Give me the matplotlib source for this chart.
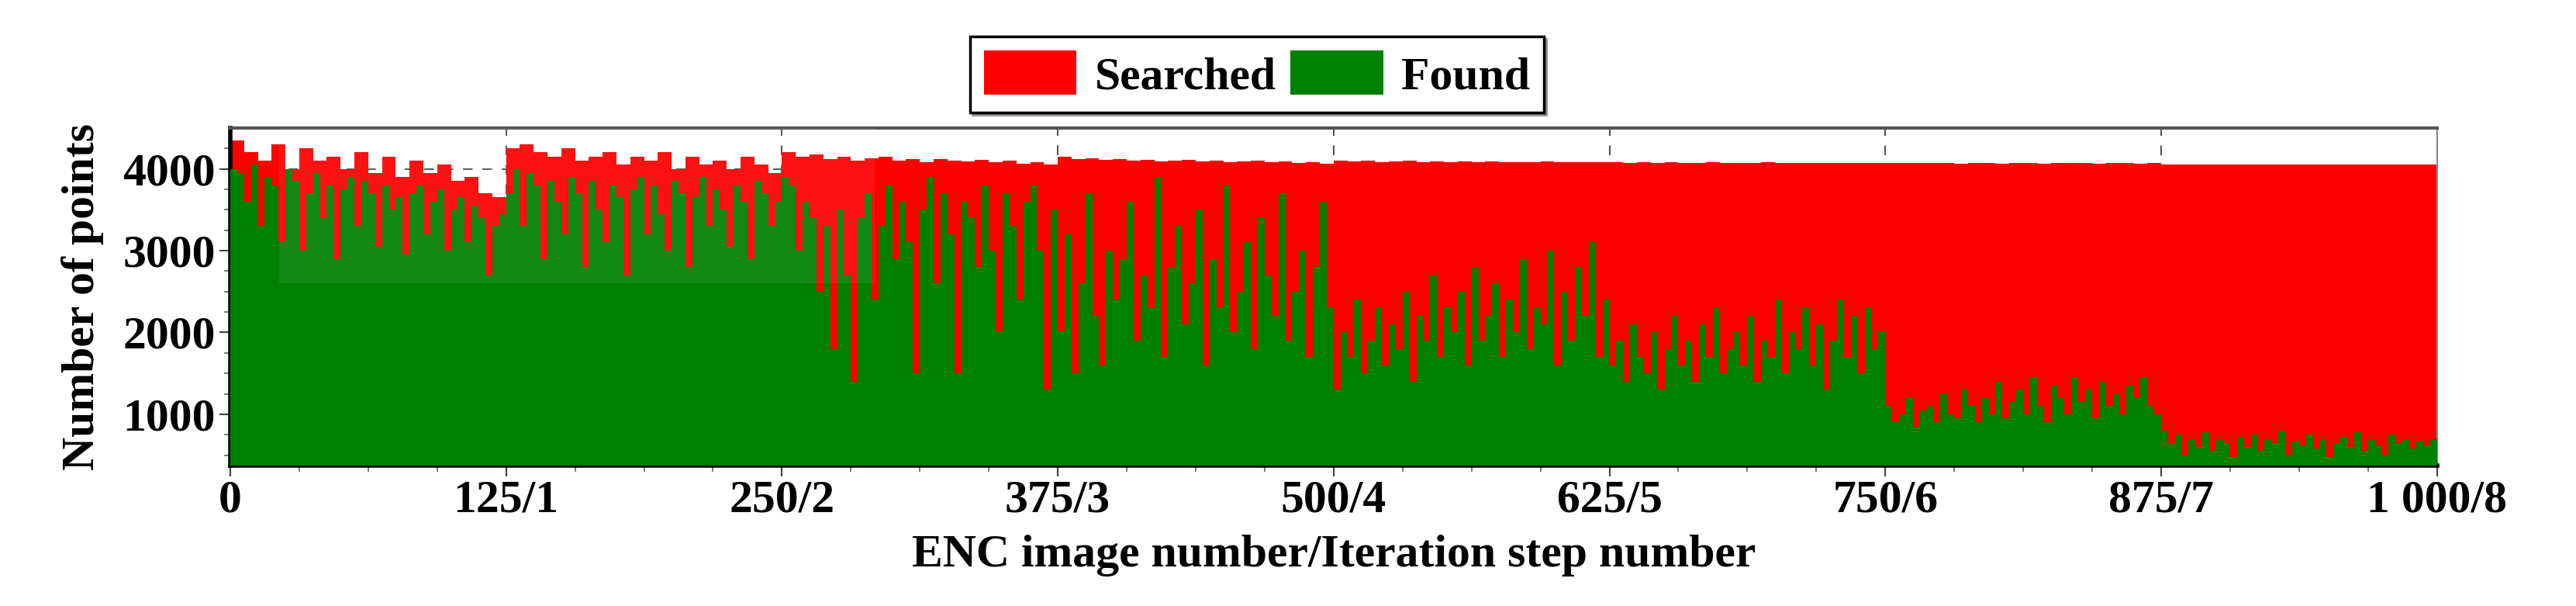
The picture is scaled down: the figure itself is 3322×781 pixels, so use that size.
import matplotlib.pyplot as plt
import numpy as np
from matplotlib.patches import Rectangle

plt.rcParams['font.family'] = ['Liberation Serif', 'DejaVu Serif']
plt.rcParams['font.weight'] = 'bold'

# Found points, 40 samples per iteration step (125 images each)
found_seg = [
    [4000, 3950, 3600, 4050, 3300, 3900, 3800, 3100, 4000, 3850, 3000, 3700, 3950, 3400, 3800, 2900, 3750, 3900, 3300, 3850,
     3700, 3050, 3800, 3500, 3650, 2950, 3700, 3800, 3200, 3600, 3750, 3000, 3500, 3650, 3100, 3550, 3400, 2700, 3300, 3450],
    [3700, 4000, 3300, 3950, 3800, 2900, 3850, 3600, 3200, 3900, 3700, 2800, 3850, 3500, 3100, 3800, 3650, 2700, 3750, 3900,
     3200, 3800, 3450, 3000, 3850, 3700, 2800, 3650, 3900, 3300, 3750, 3500, 3050, 3800, 3600, 2900, 3850, 3700, 3300, 3600],
    [3900, 3800, 3000, 3600, 3400, 2500, 3300, 1800, 3500, 2700, 1400, 3400, 3700, 2400, 3300, 3800, 2900, 3600, 3100, 1500,
     3500, 3900, 2600, 3700, 3200, 1500, 3600, 3400, 2800, 3800, 3000, 2000, 3700, 3300, 2400, 3600, 3800, 3000, 1300, 3500],
    [2000, 3200, 1500, 2600, 3700, 2200, 1600, 3000, 2400, 2900, 3600, 1900, 2700, 2300, 3900, 1700, 2800, 3300, 2100, 2600,
     3500, 1600, 2900, 2300, 3800, 2000, 2500, 3100, 1800, 3400, 2700, 2200, 3700, 1900, 2500, 3000, 1700, 2800, 3600, 2300],
    [1300, 2000, 1700, 2400, 1500, 1900, 2300, 1600, 2100, 1800, 2500, 1400, 2200, 1900, 2700, 1700, 2300, 2000, 2500, 1600,
     2800, 1900, 2200, 2600, 1700, 2400, 2000, 2900, 1800, 2300, 2100, 3000, 1600, 2500, 1900, 2800, 2200, 3100, 1700, 2400],
    [1600, 1900, 1400, 2100, 1700, 1500, 2000, 1300, 1800, 2200, 1600, 1900, 1400, 2100, 1700, 2300, 1500, 1800, 2000, 1600,
     2200, 1400, 1900, 1700, 2400, 1500, 2000, 1800, 2300, 1600, 2100, 1300, 1900, 2400, 1700, 2200, 1500, 2300, 1800, 2000],
    [1100, 900, 1000, 1200, 850, 1050, 1100, 900, 1250, 1000, 950, 1300, 1100, 900, 1200, 1000, 1400, 950, 1150, 1300,
     1000, 1450, 1100, 900, 1350, 1200, 1000, 1450, 1150, 1300, 950, 1400, 1100, 1250, 1000, 1350, 1200, 1450, 1100, 1000],
    [800, 650, 750, 500, 700, 600, 780, 550, 700, 650, 480, 720, 600, 750, 550, 700, 650, 800, 500, 680,
     620, 750, 580, 700, 480, 650, 720, 600, 780, 550, 700, 620, 500, 750, 650, 700, 580, 680, 620, 700],
]

# Searched points, 20 samples per iteration step
searched_seg = [
    [4350, 4200, 4100, 4300, 4000, 4250, 4100, 4150, 4000, 4200, 3950, 4150, 3900, 4100, 3950, 4050, 3850, 3900, 3700, 3650],
    [4250, 4300, 4200, 4150, 4250, 4100, 4150, 4200, 4050, 4150, 4100, 4200, 4000, 4150, 4050, 4100, 4000, 4150, 4050, 3950],
    [4200, 4150, 4180, 4120, 4150, 4100, 4130, 4150, 4100, 4120, 4080, 4120, 4100, 4090, 4110, 4080, 4100, 4060, 4080, 4050],
    [4150, 4120, 4130, 4110, 4120, 4100, 4110, 4090, 4100, 4110, 4090, 4100, 4080, 4090, 4100, 4080, 4090, 4070, 4080, 4060],
    [4100, 4090, 4100, 4080, 4090, 4100, 4080, 4090, 4080, 4090, 4080, 4090, 4080, 4085, 4080, 4090, 4080, 4085, 4080, 4080],
    [4080, 4075, 4080, 4070, 4080, 4075, 4070, 4080, 4070, 4075, 4070, 4080, 4070, 4075, 4070, 4075, 4070, 4075, 4070, 4070],
    [4075, 4070, 4075, 4070, 4075, 4065, 4070, 4075, 4065, 4070, 4075, 4065, 4070, 4075, 4070, 4065, 4075, 4070, 4065, 4070],
    [4050, 4050, 4050, 4050, 4050, 4050, 4050, 4050, 4050, 4050, 4050, 4050, 4050, 4050, 4050, 4050, 4050, 4050, 4050, 4050],
]

tick_pos = [0, 125, 250, 375, 500, 625, 750, 875, 1000]
tick_labels = ['0', '125/1', '250/2', '375/3', '500/4', '625/5', '750/6', '875/7', '1 000/8']

found = np.concatenate(found_seg)
searched = np.concatenate(searched_seg)
xf = np.linspace(0, 1000, len(found) + 1)
xs = np.linspace(0, 1000, len(searched) + 1)

fig = plt.figure(figsize=(33.22, 7.81), dpi=100)
ax = fig.add_axes([0.0894, 0.232, 0.8566, 0.557])

ymin, ymax = 375, 4500
ax.stairs(searched, xs, baseline=ymin, fill=True, color='#ff0000', zorder=2, label='Searched')
ax.stairs(found, xf, baseline=ymin, fill=True, color='#008000', zorder=3, label='Found')
ax.add_patch(Rectangle((22, 2600), 270, 1900, facecolor='white', alpha=0.07, zorder=4, lw=0))

fs = 43
ax.set_xlim(0, 1000)
ax.set_ylim(ymin, ymax)
ax.set_xticks(tick_pos)
ax.set_xticklabels(tick_labels)
ax.set_xticks(np.arange(0, 1000, 31.25), minor=True)
ax.set_yticks([1000, 2000, 3000, 4000])
ax.set_yticks(np.arange(500, 4500, 250), minor=True)
ax.tick_params(axis='both', labelsize=fs, length=10, width=1.5, color='#444444')
ax.tick_params(which='minor', length=6, width=1.2, color='#666666')
ax.grid(True, which='major', linestyle=(0, (6, 6)), color='#555555', linewidth=1.5, zorder=1)
ax.set_axisbelow(True)

for s in ['left', 'bottom']:
    ax.spines[s].set_linewidth(4)
ax.spines['top'].set_linewidth(3)
ax.spines['top'].set_color('#555555')
ax.spines['right'].set_linewidth(1.5)
ax.spines['right'].set_color('#888888')

ax.set_xlabel('ENC image number/Iteration step number', fontsize=fs, fontweight='bold', labelpad=12)
ax.set_ylabel('Number of points', fontsize=fs, fontweight='bold', labelpad=18)

leg = fig.legend(loc='center', bbox_to_anchor=(0.488, 0.877), ncol=2, frameon=True,
                 fancybox=False, shadow=True, edgecolor='black', handlelength=2.0, handleheight=1.1,
                 handletextpad=0.4, columnspacing=0.3, borderpad=0.3, prop={'weight': 'bold', 'size': fs})
leg.get_frame().set_linewidth(2.5)

fig.savefig('out.png', dpi=100)
